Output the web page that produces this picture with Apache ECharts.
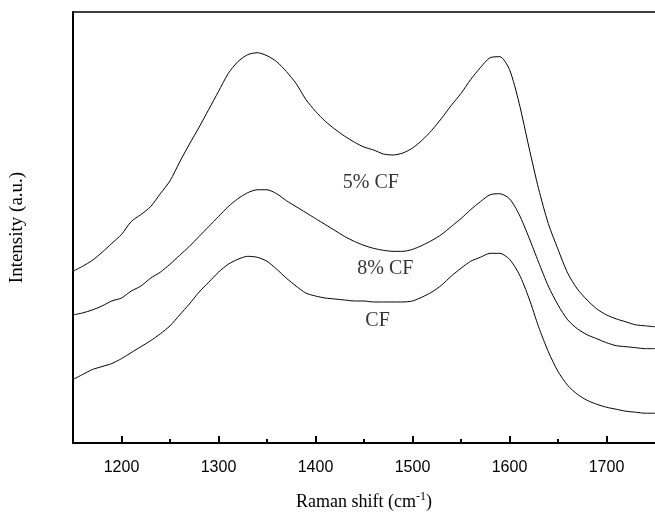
<!DOCTYPE html>
<html>
<head>
<meta charset="utf-8">
<script src="https://cdn.jsdelivr.net/npm/echarts@6/dist/echarts.min.js"></script>
<style>html,body{margin:0;padding:0;background:#fff;}#c{width:655px;height:516px;}</style>
</head>
<body>
<div id="c"></div>
<script>
// Raman shift (cm-1), sampled every 10
const shifts = [1150,1160,1170,1180,1190,1200,1210,1220,1230,1240,1250,1260,1270,1280,1290,1300,1310,1320,1330,1340,1350,1360,1370,1380,1390,1400,1410,1420,1430,1440,1450,1460,1470,1480,1490,1500,1510,1520,1530,1540,1550,1560,1570,1580,1590,1600,1610,1620,1630,1640,1650,1660,1670,1680,1690,1700,1710,1720,1730,1740,1750];
const cf5 = [173,178,184,192,201,210,223,230,238,251,264,283,301,318,336,354,372,384,391,393,390,384,374,362,346,334,324,316,309,303,298,295,291,290,292,297,305,315,327,340,352,366,378,388,389,376,342,298,256,221,195,171,155,144,135,129,125,122,119,118,117];
const cf8 = [129,131,134,138,143,146,153,158,166,172,180,189,198,208,218,228,238,246,252,255,255,251,244,238,232,226,220,214,208,203,199,196,194,193,193,195,199,204,210,218,226,235,243,250,251,246,230,207,182,158,139,124,115,109,105,101,98,97,96,95,95];
const cf = [64,69,74,77,80,85,91,97,103,110,118,129,140,152,162,172,180,185,188,187,183,175,166,158,151,148,146,145,144,143,143,142,142,142,142,143,147,152,159,168,176,183,187,191,191,185,170,146,117,92,72,58,49,43,39,36,34,32,31,30,30];
const majorTicks = [1200,1300,1400,1500,1600,1700];
const minorTicks = [1250,1350,1450,1550,1650];
const labelNames = ['5% CF','8% CF','CF'];
const labelPos = [[1457,262],[1472,175],[1464,123]];

const mk = arr => shifts.map((s,i)=>[s,arr[i]]);
const chart = echarts.init(document.getElementById('c'));
const lineSeries = (name, arr) => ({
  name, type:'line', data: mk(arr), showSymbol:false, symbol:'none', smooth:0.25,
  lineStyle:{color:'#000', width:1}, silent:true, animation:false
});
chart.setOption({
  animation:false,
  grid:{left:71, top:12, width:588, height:434},
  xAxis:[
    {type:'value', min:1150, max:1750, position:'bottom',
     axisLine:{show:true, lineStyle:{color:'#000', width:2}},
     axisTick:{show:true, inside:true, length:7, lineStyle:{color:'#000', width:2}, customValues: majorTicks},
     axisLabel:{show:true, customValues: majorTicks, formatter: v => String(v), color:'#000', fontFamily:'Liberation Sans, Arial', fontSize:16, margin:17},
     splitLine:{show:false},
     name:'Raman shift (cm{sup|-1})', nameLocation:'middle', nameGap:48,
     nameTextStyle:{color:'#000', fontFamily:'Liberation Serif, Times New Roman', fontSize:18,
       rich:{sup:{fontSize:12, fontFamily:'Liberation Serif', color:'#000', verticalAlign:'top', padding:[0,0,10,0]}}}
    },
    {type:'value', min:1150, max:1750, position:'bottom',
     axisLine:{show:false},
     axisTick:{show:true, inside:true, length:4, lineStyle:{color:'#000', width:2}, customValues: minorTicks},
     axisLabel:{show:false}, splitLine:{show:false}
    },
    {type:'value', min:1150, max:1750, position:'top',
     axisLine:{show:true, lineStyle:{color:'#000', width:1.5}},
     axisTick:{show:false}, axisLabel:{show:false}, splitLine:{show:false}
    }
  ],
  yAxis:[{type:'value', min:0, max:434,
    axisLine:{show:true, lineStyle:{color:'#000', width:2}},
    axisTick:{show:false}, axisLabel:{show:false}, splitLine:{show:false},
    name:'Intensity (a.u.)', nameLocation:'middle', nameGap:46, nameRotate:90,
    nameTextStyle:{color:'#000', fontFamily:'Liberation Serif, Times New Roman', fontSize:19}
  }],
  series:[
    lineSeries('5% CF', cf5),
    lineSeries('8% CF', cf8),
    lineSeries('CF', cf),
    {type:'scatter', symbolSize:0, silent:true,
     data: labelPos.map((p,i)=>({value:p, name:labelNames[i]})),
     label:{show:true, position:'inside', formatter:'{b}', color:'#000',
       fontFamily:'Liberation Serif, Times New Roman', fontSize:20}}
  ]
});
</script>
</body>
</html>
